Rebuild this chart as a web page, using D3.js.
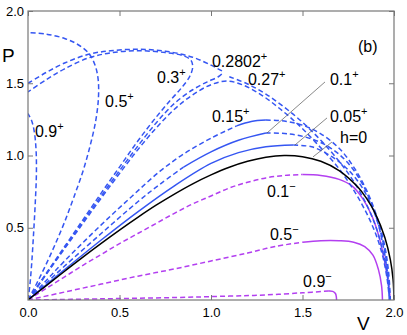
<!DOCTYPE html>
<html><head><meta charset="utf-8">
<script src="https://cdn.jsdelivr.net/npm/d3@7"></script>
<style>
html,body{margin:0;padding:0;background:#fff;}
svg{display:block;font-family:"Liberation Sans",Arial,Helvetica,sans-serif;}
</style></head>
<body>
<svg id="chart" width="407" height="335"></svg>
<script>
// ---- data: [V, P] ----
const h0 = [[0,0],[0.1,0.1],[0.2,0.199],[0.3,0.297],[0.4,0.392],[0.5,0.484],[0.6,0.572],[0.7,0.656],[0.8,0.733],[0.9,0.804],[1.0,0.866],[1.1,0.919],[1.2,0.96],[1.3,0.988],[1.4,1.0],[1.5,0.992],[1.6,0.96],[1.7,0.896],[1.8,0.785],[1.85,0.703],[1.9,0.593],[1.95,0.433],[1.98,0.279],[1.995,0.141],[2.0,0]];

const p005Solid = [[0,0],[0.1,0.105],[0.2,0.21],[0.4,0.415],[0.6,0.61],[0.8,0.79],[1.0,0.945],[1.15,1.02],[1.3,1.06],[1.45,1.072]];
const p005Dash = [[1.45,1.072],[1.55,1.06],[1.65,1.0],[1.75,0.9],[1.83,0.77],[1.9,0.58],[1.94,0.38],[1.965,0.18],[1.975,0]];

const p01Dash1 = [[0,0],[0.1,0.118],[0.2,0.235],[0.4,0.46],[0.6,0.68],[0.72,0.8],[0.85,0.92]];
const p01Solid = [[0.85,0.92],[1.0,1.025],[1.15,1.105],[1.3,1.155]];
const p01Dash2 = [[1.3,1.155],[1.42,1.15],[1.55,1.115],[1.65,1.055],[1.74,0.96],[1.82,0.82],[1.89,0.62],[1.94,0.4],[1.965,0.2],[1.978,0]];

const p015Dash1 = [[0,0],[0.1,0.135],[0.2,0.27],[0.4,0.52],[0.57,0.72],[0.72,0.89],[0.85,1.01],[1.0,1.12],[1.14,1.205]];
const p015Solid = [[1.14,1.205],[1.22,1.235],[1.3,1.245]];
const p015Dash2 = [[1.3,1.245],[1.4,1.238],[1.5,1.21],[1.6,1.15],[1.7,1.05],[1.78,0.92],[1.85,0.76],[1.9,0.6],[1.945,0.4],[1.97,0.2],[1.98,0]];

const p027 = [[0,0],[0.1,0.178],[0.2,0.355],[0.3,0.53],[0.4,0.705],[0.5,0.875],[0.6,1.04],[0.7,1.19],[0.8,1.32],[0.9,1.42],[1.0,1.49],[1.09,1.515],[1.18,1.485],[1.28,1.415],[1.38,1.32],[1.48,1.21],[1.58,1.08],[1.68,0.94],[1.76,0.8],[1.83,0.65],[1.89,0.49],[1.935,0.32],[1.962,0.15],[1.975,0]];

const p02802Rise = [[0,0],[0.1,0.181],[0.2,0.362],[0.3,0.542],[0.4,0.72],[0.5,0.895],[0.6,1.065],[0.7,1.225],[0.8,1.36],[0.9,1.455],[0.98,1.51],[1.04,1.545],[1.06,1.565]];
const p02802Arc = [[1.06,1.585],[1.0,1.625],[0.9,1.68],[0.75,1.722],[0.6,1.735],[0.45,1.725],[0.33,1.7],[0.2,1.64],[0.1,1.575],[0,1.5]];
const p02802Fall = [[1.1,1.545],[1.2,1.495],[1.3,1.425],[1.4,1.335],[1.5,1.23],[1.6,1.105],[1.7,0.96],[1.78,0.82],[1.85,0.66],[1.9,0.51],[1.94,0.33],[1.965,0.16],[1.977,0]];

const p03 = [[0,0],[0.1,0.185],[0.2,0.37],[0.3,0.555],[0.4,0.74],[0.5,0.92],[0.6,1.1],[0.7,1.265],[0.78,1.385],[0.84,1.47],[0.885,1.55],[0.9,1.615],[0.89,1.66],[0.85,1.69],[0.75,1.712],[0.6,1.725],[0.45,1.71],[0.33,1.675],[0.2,1.6],[0.1,1.525],[0,1.44]];

const p05 = [[0,0],[0.05,0.12],[0.1,0.25],[0.15,0.39],[0.2,0.54],[0.25,0.71],[0.3,0.89],[0.34,1.07],[0.37,1.24],[0.385,1.4],[0.383,1.53],[0.365,1.63],[0.33,1.71],[0.27,1.77],[0.2,1.81],[0.1,1.84],[0,1.85]];

const p09 = [[0,0],[0.01,0.1],[0.02,0.25],[0.03,0.45],[0.04,0.68],[0.046,0.88],[0.044,1.04],[0.035,1.16],[0.02,1.24],[0,1.29]];

const m01Dash = [[0,0],[0.1,0.08],[0.2,0.16],[0.3,0.24],[0.4,0.315],[0.5,0.39],[0.6,0.46],[0.7,0.53],[0.8,0.6],[0.9,0.665],[1.0,0.72],[1.1,0.775],[1.2,0.815],[1.3,0.845],[1.4,0.862],[1.5,0.868]];
const m01Solid = [[1.5,0.868],[1.6,0.862],[1.7,0.835],[1.77,0.79],[1.83,0.7],[1.88,0.58],[1.92,0.43],[1.95,0.26],[1.97,0.11],[1.98,0]];

const m05Dash = [[0,0],[0.2,0.055],[0.4,0.11],[0.6,0.165],[0.8,0.215],[1.0,0.27],[1.2,0.325],[1.35,0.37],[1.5,0.4]];
const m05Solid = [[1.5,0.4],[1.6,0.41],[1.7,0.41],[1.78,0.4],[1.84,0.37],[1.885,0.31],[1.915,0.21],[1.932,0.1],[1.937,0]];

const m09Dash = [[0,0],[0.4,0.008],[0.8,0.017],[1.1,0.027],[1.3,0.035],[1.5,0.05],[1.64,0.062]];
const m09Solid = [[1.64,0.062],[1.665,0.06],[1.68,0.045],[1.685,0.02],[1.686,0]];

const xTicks = [0, 0.5, 1.0, 1.5, 2.0];
const yTicks = [0.5, 1.0, 1.5, 2.0];
const xTickLabels = ["0.0","0.5","1.0","1.5","2.0"];
const yTickLabels = ["0.5","1.0","1.5","2.0"];

// curve labels: [main text, superscript, V, P]
const curveLabels = [
  ["0.9","+",0.038,1.128],["0.5","+",0.421,1.336],["0.3","+",0.705,1.502],
  ["0.2802","+",1.005,1.612],["0.27","+",1.202,1.488],["0.15","+",1.005,1.232],
  ["0.1","+",1.650,1.488],["0.05","+",1.650,1.232],["h=0","",1.705,1.087],
  ["0.1","\u2212",1.306,0.713],["0.5","\u2212",1.322,0.415],["0.9","\u2212",1.503,0.09]
];
// pointer lines [[V1,P1],[V2,P2]]
const pointers = [
  [[1.623,1.509],[1.306,1.156]],
  [[1.634,1.26],[1.459,1.073]],
  [[1.661,1.093],[1.557,0.99]]
];

// ---- drawing ----
const svg = d3.select("#chart");
const x = d3.scaleLinear().domain([0,2]).range([28,394]);
const y = d3.scaleLinear().domain([0,2]).range([300,11]);

const BLUE = "#3556f2", PURPLE = "#b33ff0", BLACK = "#000";
const DASH = "5,3";

svg.append("defs").append("clipPath").attr("id","clip")
  .append("rect").attr("x",x(0)).attr("y",y(2)).attr("width",x(2)-x(0)).attr("height",y(0)-y(2));

const line = d3.line().x(d=>x(d[0])).y(d=>y(d[1])).curve(d3.curveCatmullRom.alpha(0.5));

const series = [
  [m09Dash,PURPLE,true],[m09Solid,PURPLE,false],
  [m05Dash,PURPLE,true],[m05Solid,PURPLE,false],
  [m01Dash,PURPLE,true],[m01Solid,PURPLE,false],
  [p09,BLUE,true],[p05,BLUE,true],[p03,BLUE,true],
  [p02802Rise,BLUE,true],[p02802Arc,BLUE,true],[p02802Fall,BLUE,true],
  [p027,BLUE,true],
  [p015Dash1,BLUE,true],[p015Solid,BLUE,false],[p015Dash2,BLUE,true],
  [p01Dash1,BLUE,true],[p01Solid,BLUE,false],[p01Dash2,BLUE,true],
  [p005Solid,BLUE,false],[p005Dash,BLUE,true],
  [h0,BLACK,false]
];

const g = svg.append("g").attr("clip-path","url(#clip)");
series.forEach(([data,color,dashed])=>{
  g.append("path").attr("d",line(data)).attr("fill","none")
   .attr("stroke",color).attr("stroke-width",1.5)
   .attr("stroke-dasharray",dashed?DASH:null);
});

// axes box with inward ticks
const axisColor = "#777";
const styleAxis = sel => {
  sel.selectAll(".domain").remove();
  sel.selectAll(".tick line").attr("stroke",axisColor).attr("stroke-width",1);
  sel.selectAll(".tick text").attr("fill","#000").attr("font-size",13)
     .attr("font-family",'"Liberation Sans",Arial,sans-serif');
};
svg.append("g").attr("transform",`translate(0,${y(0)})`)
  .call(d3.axisBottom(x).tickValues(xTicks).tickSize(-5).tickPadding(8)
        .tickFormat((d,i)=>xTickLabels[i]))
  .call(styleAxis);
svg.append("g").attr("transform",`translate(${x(0)},0)`)
  .call(d3.axisLeft(y).tickValues(yTicks).tickSize(-5).tickPadding(4)
        .tickFormat((d,i)=>yTickLabels[i]))
  .call(styleAxis);
svg.append("g").attr("transform",`translate(0,${y(2)})`)
  .call(d3.axisTop(x).tickValues(xTicks).tickSize(-5).tickFormat(""))
  .call(styleAxis);
svg.append("g").attr("transform",`translate(${x(2)},0)`)
  .call(d3.axisRight(y).tickValues(yTicks).tickSize(-5).tickFormat(""))
  .call(styleAxis);
svg.append("rect").attr("x",x(0)).attr("y",y(2)).attr("width",x(2)-x(0)).attr("height",y(0)-y(2))
  .attr("fill","none").attr("stroke",axisColor).attr("stroke-width",1.2);

// pointer lines
pointers.forEach(p=>{
  svg.append("line").attr("x1",x(p[0][0])).attr("y1",y(p[0][1]))
    .attr("x2",x(p[1][0])).attr("y2",y(p[1][1]))
    .attr("stroke","#555").attr("stroke-width",0.7);
});

// curve labels
curveLabels.forEach(([t,sup,v,p])=>{
  const tx = svg.append("text").attr("x",x(v)).attr("y",y(p))
    .attr("font-size",16).attr("fill","#000");
  tx.append("tspan").text(t);
  if(sup) tx.append("tspan").attr("dy",-7).attr("font-size",11).text(sup);
});

svg.append("text").attr("x",x(1.803)).attr("y",y(1.716)).attr("font-size",16).text("(b)");
svg.append("text").attr("x",2).attr("y",62).attr("font-size",19).text("P");
svg.append("text").attr("x",357).attr("y",330).attr("font-size",19).text("V");
</script>
</body></html>
